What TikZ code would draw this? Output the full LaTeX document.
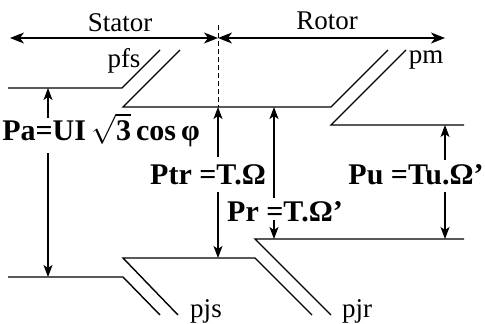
\documentclass[tikz,border=0pt]{standalone}
\usepackage{fix-cm}
\usepackage{fontspec}
\setmainfont{Liberation Serif}
\usetikzlibrary{arrows.meta}

\begin{document}
\begin{tikzpicture}[
  x=1pt, y=-1pt,
  >={Stealth[length=12pt, width=9pt, inset=3pt]},
  flow/.style  = {line width=1.4pt, line join=miter},
  arr/.style   = {->, line width=1.2pt},
  span/.style  = {<->, line width=1.4pt, >={Stealth[length=14pt, width=11pt, inset=4pt]}},
  part/.style  = {font=\fontsize{27}{30}\selectfont, inner sep=0pt, anchor=base},
  power/.style = {font=\fontsize{30}{33}\selectfont\bfseries, inner sep=0pt, anchor=base},
]
  \useasboundingbox (0,0) rectangle (485,324);

  % stator / rotor extent
  \coordinate (sL) at (10,38);
  \coordinate (sM) at (218,38);
  \coordinate (sR) at (445,38);
  \coordinate (gapT) at (218,25);
  \coordinate (gapB) at (218,107);
  \draw[span] (sL) -- (sM);
  \draw[span] (sM) -- (sR);
  \draw[line width=1pt, dash pattern=on 5pt off 3pt] (gapT) -- (gapB);
  \node[part] (stator) at (120,31) {Stator};
  \node[part] (rotor)  at (327,30) {Rotor};

  % power flow band
  \draw[flow] (8,88) -- (122,88) -- (160,50);
  \draw[flow] (180,50) -- (123,107) -- (331,107) -- (388,50);
  \draw[flow] (406,50) -- (331,125) -- (464,125);
  \draw[flow] (8,277) -- (123,277) -- (160,315);
  \draw[flow] (178,315) -- (123,258) -- (255,258) -- (312,315);
  \draw[flow] (331,315) -- (255,239) -- (464,239);

  % losses
  \node[part] (pfs) at (124,67)  {pfs};
  \node[part] (pm)  at (426,63)  {pm};
  \node[part] (pjs) at (206,317) {pjs};
  \node[part] (pjr) at (357,317) {pjr};

  % powers
  \node[power] (pa)  at (101,140) {Pa=UI\,$\sqrt{\hbox{\bfseries 3}}$\,cos\,φ};
  \node[power] (ptr) at (208,184) {Ptr =T.Ω};
  \node[power] (pr)  at (285,221) {Pr =T.Ω’};
  \node[power] (pu)  at (416,184) {Pu =Tu.Ω’};

  \coordinate (paT) at (48,88);   \coordinate (paU) at (48,118);
  \coordinate (paD) at (48,153);  \coordinate (paB) at (48,277);
  \coordinate (trT) at (218,107); \coordinate (trU) at (218,157);
  \coordinate (trD) at (218,192); \coordinate (trB) at (218,258);
  \coordinate (rT)  at (274,107); \coordinate (rU)  at (274,198);
  \coordinate (rD)  at (274,220); \coordinate (rB)  at (274,239);
  \coordinate (uT)  at (445,125); \coordinate (uU)  at (445,160);
  \coordinate (uD)  at (445,192); \coordinate (uB)  at (445,239);
  \foreach \a/\b in {paU/paT, paD/paB, trU/trT, trD/trB,
                     rU/rT, rD/rB, uU/uT, uD/uB}
     \draw[arr] (\a) -- (\b);
\end{tikzpicture}
\end{document}
